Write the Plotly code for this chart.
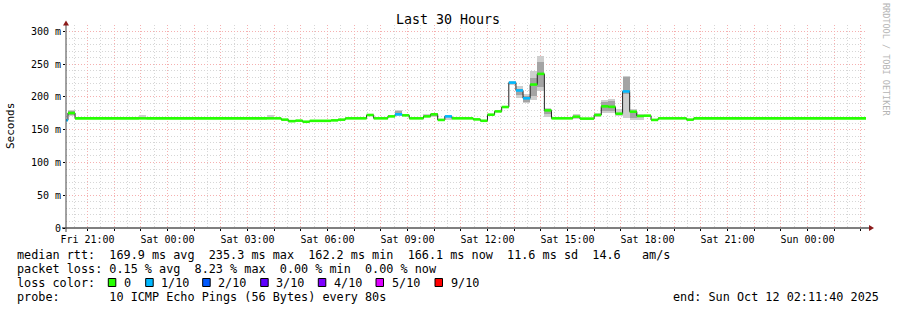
import plotly.graph_objects as go
import pandas as pd

# ---------------- data ----------------
start_time = "2025-10-10 20:11:40"
end_time = "2025-10-12 02:11:40"
seg_end = "2025-10-12 02:24"

seg_start = [
    "2025-10-10 20:00", "2025-10-10 20:16", "2025-10-10 20:32", "2025-10-10 22:56",
    "2025-10-10 23:12", "2025-10-11 03:44", "2025-10-11 04:00", "2025-10-11 04:16",
    "2025-10-11 04:32", "2025-10-11 04:48", "2025-10-11 05:04", "2025-10-11 05:20",
    "2025-10-11 06:08", "2025-10-11 06:24", "2025-10-11 06:40", "2025-10-11 07:28",
    "2025-10-11 07:44", "2025-10-11 08:16", "2025-10-11 08:32", "2025-10-11 08:48",
    "2025-10-11 09:04", "2025-10-11 09:36", "2025-10-11 09:52", "2025-10-11 10:08",
    "2025-10-11 10:24", "2025-10-11 10:40", "2025-10-11 11:28", "2025-10-11 11:44",
    "2025-10-11 12:00", "2025-10-11 12:16", "2025-10-11 12:32", "2025-10-11 12:48",
    "2025-10-11 13:04", "2025-10-11 13:20", "2025-10-11 13:36", "2025-10-11 13:52",
    "2025-10-11 14:08", "2025-10-11 14:24", "2025-10-11 15:12", "2025-10-11 15:28",
    "2025-10-11 16:00", "2025-10-11 16:16", "2025-10-11 16:32", "2025-10-11 16:48",
    "2025-10-11 17:04", "2025-10-11 17:20", "2025-10-11 17:36", "2025-10-11 17:52",
    "2025-10-11 18:08", "2025-10-11 18:24", "2025-10-11 19:28", "2025-10-11 19:44",
]
seg_median = [
    164.5, 175.5, 167.4, 167.4, 167.4, 167.4, 167.4, 165.4,
    163.1, 163.9, 162.2, 163.6, 164.3, 165.4, 167.4, 172.5,
    167.4, 170.4, 173.5, 172.0, 167.4, 170.4, 173.5, 165.0,
    170.4, 167.4, 165.8, 163.7, 173.0, 178.0, 184.7, 222.0,
    210.0, 198.0, 219.0, 235.3, 179.6, 167.4, 170.0, 167.0,
    172.5, 185.7, 185.0, 174.5, 208.5, 177.6, 171.0, 171.5,
    165.0, 167.4, 165.4, 167.4,
]
seg_loss = [
    1, 0, 0, 0, 0, 0, 0, 0,
    0, 0, 0, 0, 0, 0, 0, 0,
    0, 0, 1, 0, 0, 0, 0, 0,
    1, 0, 0, 0, 0, 0, 0, 1,
    1, 1, 0, 0, 0, 0, 0, 0,
    0, 0, 0, 0, 1, 0, 0, 0,
    0, 0, 0, 0,
]
smoke_lo = [
    None, 171.5, None, 167.4, None, 167.4, None, None,
    None, None, None, None, None, None, None, None,
    None, None, 171.5, None, None, 170.4, 170.0, None,
    164.3, None, None, None, None, None, None, 219.0,
    198.5, 190.8, 195.0, 208.5, 170.0, None, 166.5, None,
    170.0, 175.6, 175.6, 171.0, 168.0, 165.4, 164.3, None,
    None, None, None, None,
]
smoke_hi = [
    None, 180.6, None, 172.0, None, 172.0, None, None,
    None, None, None, None, None, None, None, None,
    None, None, 180.6, None, None, 174.5, 176.0, None,
    170.4, None, None, None, None, None, None, 224.5,
    216.7, 204.5, 239.0, 263.0, 183.0, None, 174.0, None,
    175.0, 195.0, 197.6, 181.0, 232.5, 181.7, 174.5, None,
    None, None, None, None,
]
core_lo = [
    None, 173.0, None, None, None, None, None, None,
    None, None, None, None, None, None, None, None,
    None, None, 174.5, None, None, None, 172.0, None,
    None, None, None, None, None, None, None, None,
    203.5, 193.0, 201.0, 216.0, 174.0, None, None, None,
    None, 178.0, 178.0, None, 205.0, 168.0, None, None,
    None, None, None, None,
]
core_hi = [
    None, 178.5, None, None, None, None, None, None,
    None, None, None, None, None, None, None, None,
    None, None, 178.0, None, None, None, 175.0, None,
    None, None, None, None, None, None, None, None,
    212.0, 202.0, 229.0, 254.0, 181.0, None, None, None,
    None, 192.0, 194.0, None, 231.0, 176.0, None, None,
    None, None, None, None,
]

loss_labels = ["0", "1/10", "2/10", "3/10", "4/10", "5/10", "9/10"]
loss_colors = ["#26ff00", "#00b8ff", "#0059ff", "#5e00ff", "#7e00ff", "#dd00ff", "#ff0000"]

y_tick_vals = [0, 50, 100, 150, 200, 250, 300]
y_tick_text = ["0", "50 m", "100 m", "150 m", "200 m", "250 m", "300 m"]
x_label_times = ["2025-10-10 21:00", "2025-10-11 00:00", "2025-10-11 03:00", "2025-10-11 06:00",
                 "2025-10-11 09:00", "2025-10-11 12:00", "2025-10-11 15:00", "2025-10-11 18:00",
                 "2025-10-11 21:00", "2025-10-12 00:00"]
x_label_text = ["Fri 21:00", "Sat 00:00", "Sat 03:00", "Sat 06:00", "Sat 09:00",
                "Sat 12:00", "Sat 15:00", "Sat 18:00", "Sat 21:00", "Sun 00:00"]

title_text = "Last 30 Hours"
legend_line1 = "median rtt:  169.9 ms avg  235.3 ms max  162.2 ms min  166.1 ms now  11.6 ms sd  14.6   am/s"
legend_line2 = "packet loss: 0.15 % avg  8.23 % max  0.00 % min  0.00 % now"
legend_line3 = "loss color:"
legend_line4 = "probe:       10 ICMP Echo Pings (56 Bytes) every 80s"
end_text = "end: Sun Oct 12 02:11:40 2025"

# ---------------- figure ----------------
MONO = "DejaVu Sans Mono"
W, H = 897, 310
L, R, T, B = 66, 31, 25, 82
PW, PH = W - L - R, H - T - B


def px(x):
    return (x - L) / PW


def py(y):
    return (T + PH - y) / PH


starts = pd.to_datetime(seg_start)
ends = list(starts[1:]) + [pd.Timestamp(seg_end)]

fig = go.Figure()

# smoke (outer and core bands)
for lo_arr, hi_arr, col in [(smoke_lo, smoke_hi, "#cecece"), (core_lo, core_hi, "#a4a4a4")]:
    xs, ws, bs, hs = [], [], [], []
    for s, e, lo, hi in zip(starts, ends, lo_arr, hi_arr):
        if lo is None:
            continue
        xs.append(s + (e - s) / 2)
        ws.append((e - s).total_seconds() * 1000)
        bs.append(lo)
        hs.append(hi - lo)
    fig.add_trace(go.Bar(x=xs, y=hs, base=bs, width=ws, marker=dict(color=col, line=dict(width=0)),
                         hoverinfo="skip"))

# black median step line
fig.add_trace(go.Scatter(x=list(starts) + [ends[-1]], y=seg_median + [seg_median[-1]],
                         mode="lines", line=dict(shape="hv", color="#202020", width=1),
                         hoverinfo="skip"))

# loss-coloured median bars
for li, col in enumerate(loss_colors):
    xs, ys = [], []
    for s, e, m, lo in zip(starts, ends, seg_median, seg_loss):
        if lo == li:
            xs += [s, e, None]
            ys += [m, m, None]
    if xs:
        fig.add_trace(go.Scatter(x=xs, y=ys, mode="lines", line=dict(color=col, width=2.6),
                                 hoverinfo="skip"))

hourly = pd.date_range("2025-10-10 21:00", "2025-10-12 02:00", freq="h")
lab = dict(zip(pd.to_datetime(x_label_times), x_label_text))
tick_text = [lab.get(t, "") for t in hourly]

MAJ = "#f5b0b0"
MIN = "#d6d6d6"
fig.update_xaxes(type="date", range=[start_time, end_time], tickvals=list(hourly), ticktext=tick_text,
                 showgrid=True, gridcolor=MAJ, griddash="1px,2px", gridwidth=1,
                 minor=dict(dtick=30 * 60 * 1000, tick0="2025-10-10 20:30", showgrid=True,
                            gridcolor=MIN, griddash="1px,2px", gridwidth=1),
                 showline=False, zeroline=False, ticks="outside", ticklen=2, tickcolor="#000",
                 tickfont=dict(family=MONO, size=10, color="#000"), fixedrange=True)
fig.update_yaxes(range=[0, 309.9], tickvals=y_tick_vals, ticktext=y_tick_text,
                 showgrid=True, gridcolor=MAJ, griddash="1px,2px", gridwidth=1,
                 minor=dict(dtick=10, showgrid=True, gridcolor=MIN, griddash="1px,2px", gridwidth=1),
                 showline=False, zeroline=False, ticks="outside", ticklen=2, tickcolor="#000",
                 tickfont=dict(family=MONO, size=10, color="#000"), fixedrange=True)

shapes = [
    dict(type="line", xref="paper", yref="paper", x0=px(62), x1=px(869), y0=py(228), y1=py(228),
         line=dict(color="#000", width=1)),
    dict(type="line", xref="paper", yref="paper", x0=px(66), x1=px(66), y0=py(232), y1=py(24),
         line=dict(color="#444", width=1)),
    dict(type="path", xref="paper", yref="paper",
         path=f"M {px(66)} {py(20.5)} L {px(63)} {py(25.5)} L {px(69)} {py(25.5)} Z",
         fillcolor="#8b1a1a", line=dict(width=0)),
    dict(type="path", xref="paper", yref="paper",
         path=f"M {px(874)} {py(228)} L {px(869)} {py(225)} L {px(869)} {py(231)} Z",
         fillcolor="#8b1a1a", line=dict(width=0)),
]
sq_x = [108.3, 145.7, 202.7, 260.7, 318.3, 376.0, 435.0]
for sx, col in zip(sq_x, loss_colors):
    shapes.append(dict(type="rect", xref="paper", yref="paper", x0=px(sx), x1=px(sx + 7.5),
                       y0=py(286.5), y1=py(278.5), fillcolor=col, line=dict(color="#000", width=1)))


def nb(s):
    return s.replace(" ", "\u00a0")


ann = []


def add_text(text, x, y, size, anchor="left", angle=0, color="#000"):
    ann.append(dict(text=nb(text), x=px(x), y=py(y), xref="paper", yref="paper", showarrow=False,
                    xanchor=anchor, yanchor="middle", textangle=angle, borderpad=0,
                    font=dict(family=MONO, size=size, color=color)))


add_text(title_text, 448, 20, 13.3, anchor="center")
add_text("Seconds", 11, 126, 11, anchor="center", angle=-90)
add_text("RRDTOOL / TOBI OETIKER", 886, 60, 8.5, anchor="center", angle=90, color="#b4b4b4")
add_text(legend_line1, 16, 254.5, 11.8)
add_text(legend_line2, 16, 268.5, 11.8)
add_text(legend_line3, 16, 282.5, 11.8)
add_text(legend_line4, 16, 296.5, 11.8)
for sx, labtxt in zip(sq_x, loss_labels):
    add_text(labtxt, sx + 14.5, 282.5, 11.8)
add_text(end_text, 880, 296.5, 11.8, anchor="right")

fig.update_layout(width=W, height=H, margin=dict(l=L, r=R, t=T, b=B, pad=0),
                  paper_bgcolor="#ffffff", plot_bgcolor="#ffffff", showlegend=False,
                  barmode="overlay", bargap=0, shapes=shapes, annotations=ann)

fig.write_html("out.html")
